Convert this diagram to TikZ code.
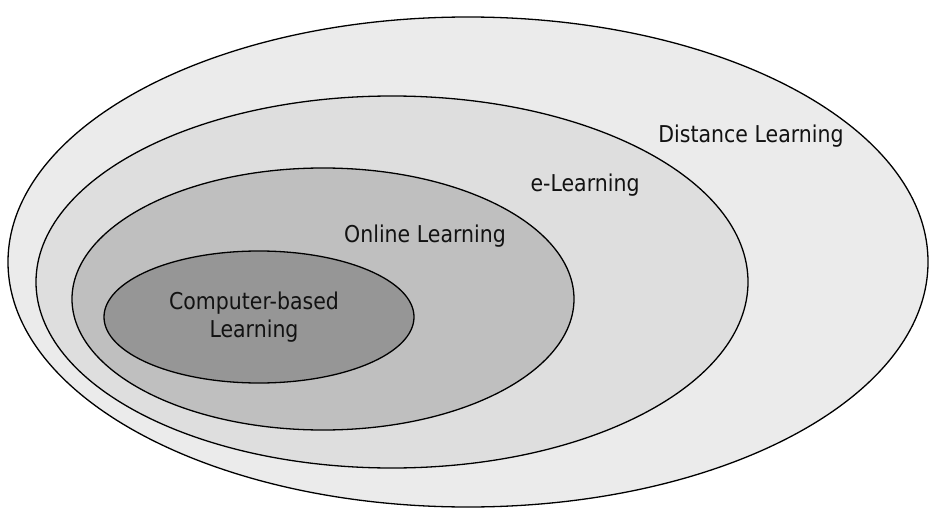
\documentclass[tikz,border=0pt]{standalone}
\usepackage{fontspec}
\usepackage{graphicx}
\setmainfont{DejaVu Sans}
\newcommand{\tallt}[1]{\scalebox{1}[1.13]{\begin{tabular}{@{}c@{}}#1\end{tabular}}}
\begin{document}
\begin{tikzpicture}[x=1pt,y=-1pt,
  ring/.style={draw=black,line width=1.3pt},
  lbl/.style={font=\fontsize{20.5}{24.5}\selectfont,text=black!93,align=center,inner sep=0pt}]
\useasboundingbox[fill=white] (0,0) rectangle (934,508);
\path[ring,fill=black!8]  (468,262) ellipse [x radius=460,y radius=245];
\path[ring,fill=black!13] (392,282) ellipse [x radius=356,y radius=186];
\path[ring,fill=black!25] (323,299) ellipse [x radius=251,y radius=131];
\path[ring,fill=black!41] (259,317) ellipse [x radius=155,y radius=66];
\node[lbl] (dl) at (751,137) {\tallt{Distance Learning}};
\node[lbl] (el) at (585,186) {\tallt{e-Learning}};
\node[lbl] (ol) at (425,237) {\tallt{Online Learning}};
\node[lbl] (cb) at (254,318) {\tallt{Computer-based\\Learning}};
\end{tikzpicture}
\end{document}
